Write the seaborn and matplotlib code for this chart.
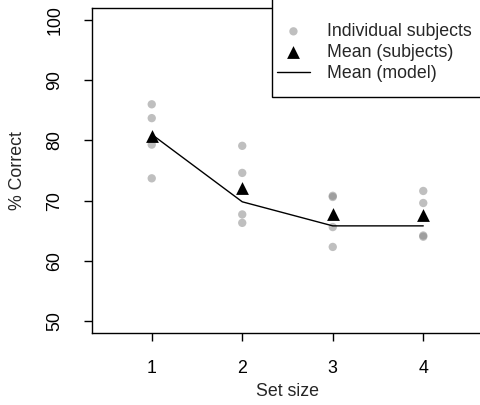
import numpy as np
import pandas as pd
import matplotlib
matplotlib.use("Agg")
import matplotlib.pyplot as plt
from matplotlib.patches import Rectangle
import seaborn as sns

# values
set_sizes = [1, 2, 3, 4]
subject_scores = {
    1: [86.0, 83.7, 79.3, 73.7],
    2: [79.1, 74.6, 67.7, 66.3],
    3: [70.8, 70.6, 65.6, 62.3],
    4: [71.6, 69.6, 64.2, 64.0],
}
mean_subjects = [80.8, 72.1, 67.8, 67.6]
mean_model = [81.0, 69.8, 65.8, 65.8]

subj = pd.DataFrame([(k, v) for k in set_sizes for v in subject_scores[k]],
                    columns=["set_size", "correct"])
means = pd.DataFrame({"set_size": set_sizes, "subjects": mean_subjects, "model": mean_model})

sns.set_style("ticks")
plt.rcParams["font.family"] = ["Liberation Sans", "DejaVu Sans"]
fs = 12.8
plt.rcParams["font.size"] = fs

fig = plt.figure(figsize=(4.81, 4.05), dpi=100)
W, H = 481, 405
ax = fig.add_axes([92 / W, 1 - 333 / H, 391 / W, 325 / H])

sns.scatterplot(data=subj, x="set_size", y="correct", ax=ax, color=(0.5, 0.5, 0.5),
                alpha=0.5, s=36, edgecolor="none", linewidth=0, label="Individual subjects", zorder=2)
sns.scatterplot(data=means, x="set_size", y="subjects", ax=ax, marker="^", color="black",
                s=85, edgecolor="black", linewidth=0, label="Mean (subjects)", zorder=4)
sns.lineplot(data=means, x="set_size", y="model", ax=ax, color="black", linewidth=1.0,
             label="Mean (model)", zorder=3)

ax.set_xlim(0.34, 4.66)
ax.set_ylim(48, 102)
ax.set_xticks(set_sizes)
ax.set_yticks([50, 60, 70, 80, 90, 100])
for s in ax.spines.values():
    s.set_visible(True)
    s.set_linewidth(1.0)
    s.set_color("black")
ax.tick_params(direction="out", length=5.5, width=1.0, color="black", labelsize=fs,
               labelcolor="black")
ax.tick_params(axis="x", pad=14)
ax.tick_params(axis="y", pad=15, labelrotation=90)
for lab in ax.get_yticklabels():
    lab.set_va("center")

ax.set_xlabel("Set size", fontsize=fs, va="center")
ax.set_ylabel("% Correct", fontsize=fs, va="center")
ax.xaxis.set_label_coords(0.5, (333 - 392) / 325)
ax.yaxis.set_label_coords((17 - 92) / 391, 0.5)

# legend box like R's legend("topright")
ax.add_patch(Rectangle(((272 - 92) / 391, (333 - 97) / 325), 1, 1, transform=ax.transAxes,
                       facecolor="white", edgecolor="black", linewidth=1.0, zorder=5,
                       clip_on=False))
leg = ax.legend(loc="upper left", bbox_to_anchor=((277 - 92) / 391, (333 - 23) / 325),
                frameon=False, borderpad=0, borderaxespad=0, handlelength=1.85,
                handletextpad=0.95, labelspacing=0.23, fontsize=fs)
leg.set_zorder(6)

fig.savefig("out.png", dpi=100)
